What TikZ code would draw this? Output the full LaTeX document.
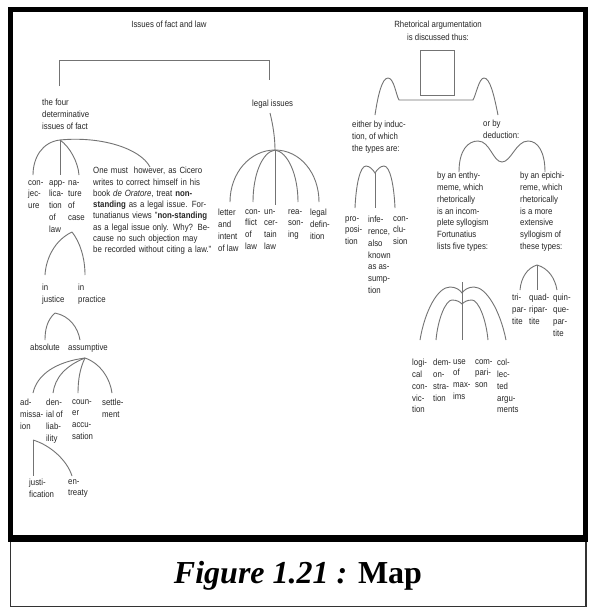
\documentclass[tikz,border=0pt]{standalone}
\usepackage{fontspec}
\setmainfont{Liberation Sans}[FakeStretch=0.87]
\newfontfamily\capfont{Liberation Serif}
\begin{document}
\begin{tikzpicture}[x=1pt,y=-1pt,
  lbl/.style={anchor=north west, inner sep=0pt, align=left, text=black!85, font=\fontsize{9}{11.8}\selectfont},
  ctr/.style={anchor=north, inner sep=0pt, align=center, text=black!85, font=\fontsize{9}{12.5}\selectfont},
  conn/.style={draw=black!55, line width=0.9pt},
  frame/.style={draw=black, line width=5pt},
]
\useasboundingbox (0,0) rectangle (590,608);
\fill[white] (0,0) rectangle (590,608);
% frames
\draw[frame] (10.5,9.5) rectangle (585.5,538.5);
\draw[black, line width=7pt] (8,538.5) -- (588,538.5);
\draw[black!80, line width=1.5pt] (10.5,542) -- (10.5,606.5) -- (586,606.5) -- (586,542);
\node[anchor=base, inner sep=0pt, font=\capfont\fontsize{32}{38}\selectfont] (cap) at (298,583) {\textbf{\textit{Figure 1.21 :}} \textbf{Map}};

% ---------- left half ----------
\node[ctr] (t1) at (169,21) {Issues of fact and law};
\node[lbl] (four) at (42,99) {the four\\determinative\\issues of fact};
\node[lbl] (legal) at (252,100) {legal issues};
\coordinate (bl) at (59,86);
\coordinate (br) at (269,80);
\draw[conn] (bl) -- ++(0,-26) -| (br);

% four determinative issues
\coordinate (fh) at (60,140);
\coordinate (f1) at (33,175);
\coordinate (f2) at (60,175);
\coordinate (f3) at (79,175);
\coordinate (f4) at (150,167);
\draw[conn] (fh) .. controls (42,142) and (33,158) .. (f1);
\draw[conn] (fh) -- (f2);
\draw[conn] (fh) .. controls (70,147) and (78,162) .. (f3);
\draw[conn] (fh) .. controls (100,136) and (140,148) .. (f4);
\node[lbl] (conj) at (28,180) {con-\\jec-\\ure};
\node[lbl] (appl) at (49,180) {app-\\lica-\\tion\\of\\law};
\node[lbl] (nat) at (68,180) {na-\\ture\\of\\case};
\node[lbl, text width=125pt, font=\fontsize{9}{11.3}\selectfont] (para) at (93,167) {One must\ \ however, as Cicero\\
writes to correct himself in his\\
book \textit{de Oratore}, treat \textbf{non-}\\
\textbf{standing} as a legal issue. For-\\
tunatianus views "\textbf{non-standing}\\
as a legal issue only. Why? Be-\\
cause no such objection may\\
be recorded without citing a law."};

% nature of case -> in justice / in practice
\coordinate (nh) at (72,232);
\coordinate (n1) at (45,275);
\coordinate (n2) at (85,275);
\draw[conn] (nh) .. controls (55,240) and (46,258) .. (n1);
\draw[conn] (nh) .. controls (80,242) and (85,258) .. (n2);
\node[lbl] (injust) at (42,284) {in\\justice};
\node[lbl] (inprac) at (78,284) {in\\practice};

% in justice -> absolute / assumptive
\coordinate (jh) at (55,313);
\coordinate (j1) at (45,340);
\coordinate (j2) at (80,340);
\draw[conn] (jh) .. controls (47,320) and (45,330) .. (j1);
\draw[conn] (jh) .. controls (70,316) and (78,328) .. (j2);
\node[lbl] (abs) at (30,344) {absolute};
\node[lbl] (assm) at (68,344) {assumptive};

% assumptive -> four
\coordinate (ah) at (85,358);
\coordinate (a1) at (33,393);
\coordinate (a2) at (53,393);
\coordinate (a3) at (78,393);
\coordinate (a4) at (112,393);
\draw[conn] (ah) .. controls (55,362) and (37,375) .. (a1);
\draw[conn] (ah) .. controls (65,366) and (55,378) .. (a2);
\draw[conn] (ah) .. controls (80,368) and (78,380) .. (a3);
\draw[conn] (ah) .. controls (100,363) and (110,378) .. (a4);
\node[lbl] (adm) at (20,399) {ad-\\missa-\\ion};
\node[lbl] (den) at (46,399) {den-\\ial of\\liab-\\ility};
\node[lbl] (coun) at (72,399) {coun-\\er\\accu-\\sation};
\node[lbl] (sett) at (102,399) {settle-\\ment};

% admission -> justification / entreaty
\coordinate (mh) at (33,440);
\coordinate (m1) at (33,476);
\coordinate (m2) at (72,476);
\draw[conn] (mh) -- (m1);
\draw[conn] (mh) .. controls (50,445) and (67,460) .. (m2);
\node[lbl] (justi) at (29,479) {justi-\\fication};
\node[lbl] (entr) at (68,479) {en-\\treaty};

% legal issues
\coordinate (lh) at (275,150);
\draw[conn] (270,113) .. controls (273,125) and (275,138) .. (lh);
\coordinate (l1) at (230,202);
\coordinate (l2) at (253,202);
\coordinate (l3) at (275,205);
\coordinate (l4) at (298,202);
\coordinate (l5) at (319,202);
\draw[conn] (lh) .. controls (250,150) and (230,173) .. (l1);
\draw[conn] (lh) .. controls (262,152) and (253,175) .. (l2);
\draw[conn] (lh) -- (l3);
\draw[conn] (lh) .. controls (288,152) and (298,175) .. (l4);
\draw[conn] (lh) .. controls (300,150) and (319,173) .. (l5);
\node[lbl] (letter) at (218,209) {letter\\and\\intent\\of law};
\node[lbl] (confl) at (245,209) {con-\\flict\\of\\law};
\node[lbl] (uncert) at (264,209) {un-\\cer-\\tain\\law};
\node[lbl] (reas) at (288,209) {rea-\\son-\\ing};
\node[lbl] (legd) at (310,209) {legal\\defin-\\ition};

% ---------- right half ----------
\node[ctr] (t2) at (438,21) {Rhetorical argumentation\\is discussed thus:};
\node[draw=black!55, line width=0.9pt, minimum width=34pt, minimum height=45pt, inner sep=0pt] (box) at (437,72.5) {};
\coordinate (bL) at (375,115);
\coordinate (bR) at (498,115);
\draw[conn] (bL) .. controls (378,95) and (382,78) .. (388,78) .. controls (394,78) and (396,95) .. (399,100) -- (473,100) .. controls (476,95) and (479,78) .. (484,78) .. controls (490,78) and (494,95) .. (bR);
\node[lbl] (induc) at (352,121) {either by induc-\\tion, of which\\the types are:};
\node[lbl] (deduc) at (483,120) {or by\\deduction:};

% induction
\coordinate (ic) at (375,173);
\coordinate (i1) at (355,208);
\coordinate (i2) at (375,208);
\coordinate (i3) at (395,208);
\draw[conn] (i1) .. controls (356,185) and (360,166) .. (366,166) .. controls (370,166) and (373,170) .. (ic) .. controls (377,170) and (380,166) .. (384,166) .. controls (390,166) and (394,185) .. (i3);
\draw[conn] (ic) -- (i2);
\node[lbl] (prop) at (345,216) {pro-\\posi-\\tion};
\node[lbl] (infe) at (368,216) {infe-\\rence,\\also\\known\\as as-\\sump-\\tion};
\node[lbl] (concl) at (393,216) {con-\\clu-\\sion};

% deduction
\coordinate (d1) at (459,172);
\coordinate (d2) at (545,172);
\draw[conn] (d1) .. controls (459,150) and (468,141) .. (478,141) .. controls (490,141) and (493,162) .. (502,162) .. controls (511,162) and (516,141) .. (528,141) .. controls (538,141) and (545,152) .. (d2);
\node[lbl] (enth) at (437,172) {by an enthy-\\meme, which\\rhetorically\\is an incom-\\plete syllogism\\Fortunatius\\lists five types:};
\node[lbl] (epic) at (520,172) {by an epichi-\\reme, which\\rhetorically\\is a more\\extensive\\syllogism of\\these types:};

% epicheireme types
\coordinate (eh) at (537,265);
\coordinate (e1) at (520,290);
\coordinate (e2) at (537,290);
\coordinate (e3) at (557,290);
\draw[conn] (eh) .. controls (527,268) and (521,278) .. (e1);
\draw[conn] (eh) -- (e2);
\draw[conn] (eh) .. controls (548,268) and (555,278) .. (e3);
\node[lbl] (tri) at (512,294) {tri-\\par-\\tite};
\node[lbl] (quad) at (529,294) {quad-\\ripar-\\tite};
\node[lbl] (quin) at (553,294) {quin-\\que-\\par-\\tite};

% enthymeme five types
\coordinate (vt) at (462,282);
\coordinate (vb) at (462,340);
\coordinate (o1) at (420,340);
\coordinate (o2) at (506,340);
\coordinate (in1) at (436,340);
\coordinate (in2) at (488,340);
\draw[conn] (vt) -- (vb);
\draw[conn] (o1) .. controls (425,310) and (438,287) .. (450,287) .. controls (456,287) and (460,290) .. (462,293) .. controls (464,290) and (468,287) .. (474,287) .. controls (486,287) and (500,310) .. (o2);
\draw[conn] (in1) .. controls (438,318) and (446,300) .. (452,300) .. controls (457,300) and (460,302) .. (462,304) .. controls (464,302) and (467,300) .. (472,300) .. controls (478,300) and (486,318) .. (in2);
\node[lbl] (logi) at (412,359) {logi-\\cal\\con-\\vic-\\tion};
\node[lbl] (demo) at (433,359) {dem-\\on-\\stra-\\tion};
\node[lbl] (maxi) at (453,359) {use\\of\\max-\\ims};
\node[lbl] (comp) at (475,359) {com-\\pari-\\son};
\node[lbl] (coll) at (497,359) {col-\\lec-\\ted\\argu-\\ments};
\end{tikzpicture}
\end{document}
